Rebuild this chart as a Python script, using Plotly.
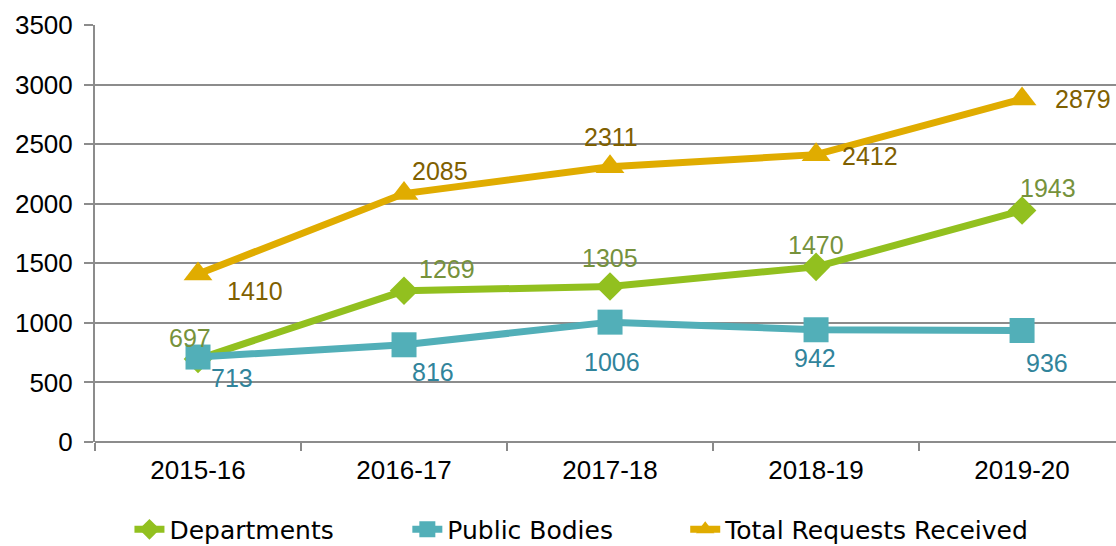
import plotly.graph_objects as go

years = ["2015-16", "2016-17", "2017-18", "2018-19", "2019-20"]
departments = [697, 1269, 1305, 1470, 1943]
public_bodies = [713, 816, 1006, 942, 936]
total_requests = [1410, 2085, 2311, 2412, 2879]

# label offsets in pixels (dx, dy) - styling only
dept_off = [(-8, 21), (43, 22), (0, 29), (0, 22), (26, 23)]
pub_off = [(34, -21), (29, -27), (2, -40), (-1, -28), (25, -33)]
tot_off = [(57, -17), (36, 23), (1, 30), (54, -1), (61, 0)]

NUMFONT = "Liberation Sans"
LEGFONT = "DejaVu Sans"

series = [
    ("Departments", departments, "#92c01f", "#76923c", "diamond", 22, dept_off, "legend"),
    ("Public Bodies", public_bodies, "#52afb8", "#31849b", "square", 25, pub_off, "legend2"),
    ("Total Requests Received", total_requests, "#e0ac00", "#7f6000", "triangle-up", 25, tot_off, "legend3"),
]
legend_x = [0.116, 0.365, 0.614]

fig = go.Figure()
annotations = []
for name, vals, col, tcol, sym, msize, offs, leg in series:
    fig.add_trace(go.Scatter(
        x=years, y=vals, name=name, mode="lines+markers",
        line=dict(color=col, width=7),
        marker=dict(symbol=sym, size=msize, color=col),
        legend=leg,
    ))
    for xv, yv, (dx, dy) in zip(years, vals, offs):
        annotations.append(dict(
            x=xv, y=yv, text=str(yv), showarrow=False,
            xshift=dx, yshift=dy, xanchor="center", yanchor="middle",
            font=dict(family=NUMFONT, size=25, color=tcol),
        ))

def leg(xpos):
    return dict(orientation="h", xref="container", yref="container",
                x=xpos, xanchor="left", y=0.03, yanchor="middle",
                font=dict(family=LEGFONT, size=25, color="#000000"),
                bgcolor="rgba(0,0,0,0)")

fig.update_layout(
    width=1116, height=546,
    margin=dict(l=95, r=0, t=25, b=104),
    paper_bgcolor="white", plot_bgcolor="white",
    font=dict(family=NUMFONT, size=25, color="#000000"),
    showlegend=True,
    annotations=annotations,
    legend=leg(legend_x[0]),
    legend2=leg(legend_x[1]),
    legend3=leg(legend_x[2]),
)
fig.update_xaxes(
    type="category", range=[-0.5, 4.456],
    showgrid=False, showline=False, zeroline=False,
    ticks="outside", tickson="boundaries", ticklen=8, tickwidth=2, tickcolor="#898989",
    ticklabelstandoff=10,
    tickfont=dict(family=NUMFONT, size=26, color="#000000"),
)
fig.update_yaxes(
    range=[0, 3500], dtick=500,
    showgrid=True, gridcolor="#8c8c8c", gridwidth=2,
    showline=True, linecolor="#8c8c8c", linewidth=2,
    zeroline=True, zerolinecolor="#8c8c8c", zerolinewidth=2,
    ticks="outside", ticklen=9, tickwidth=2, tickcolor="#8c8c8c",
    ticklabelstandoff=6,
    tickfont=dict(family=NUMFONT, size=26, color="#000000"),
)

fig.write_html("out.html")
